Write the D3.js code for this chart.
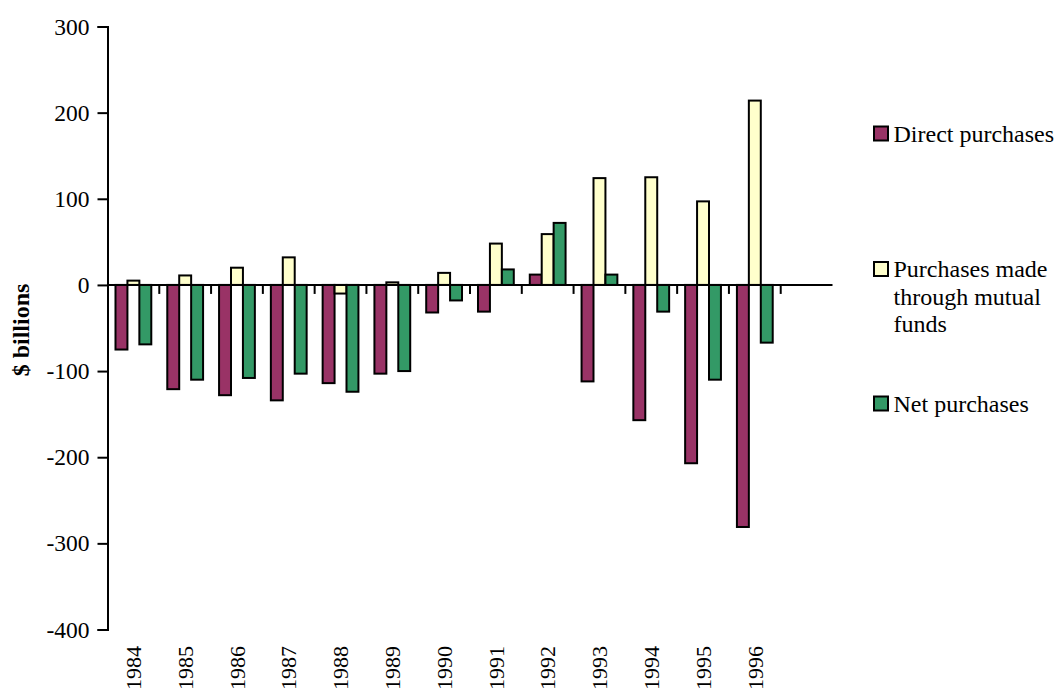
<!DOCTYPE html>
<html>
<head>
<meta charset="utf-8">
<script src="https://cdn.jsdelivr.net/npm/d3@7"></script>
<style>
  html, body { margin: 0; padding: 0; background: #fff; overflow: hidden; }
  svg { display: block; }
</style>
</head>
<body>
<svg id="chart" width="1056" height="693"></svg>
<script>
// Stock purchases by households, $ billions, 1984-1996
const years = ["1984","1985","1986","1987","1988","1989","1990","1991","1992","1993","1994","1995","1996"];
const seriesNames = ["Direct purchases", "Purchases made through mutual funds", "Net purchases"];
const legendLines = [["Direct purchases"], ["Purchases made", "through mutual", "funds"], ["Net purchases"]];
const directPurchases = [-75, -121, -128, -134, -114, -103, -32, -31, 12, -112, -157, -207, -281];
const mutualFundPurchases = [5, 11, 20, 32, -10, 3, 14, 48, 59, 124, 125, 97, 214];
const netPurchases = [-69, -110, -108, -103, -124, -100, -18, 18, 72, 12, -31, -110, -67];
const yTicks = [300, 200, 100, 0, -100, -200, -300, -400];
const colors = ["#993366", "#FFFFCC", "#339966"];

const seriesValues = [directPurchases, mutualFundPurchases, netPurchases];
const FONT = "'Liberation Serif', 'Times New Roman', serif";

const svg = d3.select("#chart").attr("font-family", FONT);
const plotLeft = 107.5, plotRight = 832.5, plotTop = 26.5, plotBottom = 629.5;

const y = d3.scaleLinear().domain([-400, 300]).range([plotBottom, plotTop]);
// 13 year bands plus one empty step at the right end of the axis
const x0 = d3.scaleBand().domain(years).range([plotLeft, plotRight])
  .paddingInner(0).paddingOuter(0.5).align(0);
const step = x0.step();
const x1 = d3.scaleBand().domain(d3.range(seriesNames.length)).range([0, step])
  .paddingInner(0).paddingOuter(0.67);

// Bars
const groups = svg.append("g").selectAll("g")
  .data(years)
  .join("g")
  .attr("transform", d => `translate(${x0(d)},0)`);

groups.selectAll("rect")
  .data((d, i) => seriesValues.map((vals, s) => ({ s, v: vals[i] })))
  .join("rect")
  .attr("x", d => x1(d.s))
  .attr("width", x1.bandwidth())
  .attr("y", d => y(Math.max(0, d.v)))
  .attr("height", d => Math.abs(y(d.v) - y(0)))
  .attr("fill", d => colors[d.s])
  .attr("stroke", "#000")
  .attr("stroke-width", 2);

// Y axis
const yAxis = svg.append("g")
  .attr("transform", `translate(${plotLeft},0)`)
  .call(d3.axisLeft(y).tickValues(yTicks).tickSize(10).tickPadding(8).tickFormat(d => String(d)));
yAxis.attr("font-family", FONT).attr("font-size", 23.5);
yAxis.select(".domain").attr("stroke", "#000").attr("stroke-width", 2);
yAxis.selectAll(".tick line").attr("stroke", "#000").attr("stroke-width", 2);
yAxis.selectAll(".tick text").attr("fill", "#000");

// Zero line with band-boundary ticks
const xAxis = svg.append("g").attr("transform", `translate(0,${y(0)})`);
xAxis.append("line")
  .attr("x1", plotLeft).attr("x2", plotRight)
  .attr("stroke", "#000").attr("stroke-width", 2);
xAxis.selectAll("line.tk")
  .data(years)
  .join("line")
  .attr("class", "tk")
  .attr("x1", d => x0(d) + step).attr("x2", d => x0(d) + step)
  .attr("y1", 0).attr("y2", 9)
  .attr("stroke", "#000").attr("stroke-width", 2);

// Year labels, rotated, below the plot
svg.append("g").selectAll("text")
  .data(years)
  .join("text")
  .attr("transform", d => `translate(${x0(d) + step / 2},646) rotate(-90)`)
  .attr("text-anchor", "end")
  .attr("dy", "0.35em")
  .attr("font-size", 22)
  .attr("fill", "#000")
  .text(d => d);

// Y axis title
svg.append("text")
  .attr("transform", "translate(20.5,330) rotate(-90)")
  .attr("text-anchor", "middle")
  .attr("dy", "0.35em")
  .attr("font-size", 24)
  .attr("font-weight", "bold")
  .attr("fill", "#000")
  .text("$ billions");

// Legend
const legendBaseline = [141.5, 277, 411.5];
const legend = svg.append("g").selectAll("g")
  .data(seriesNames)
  .join("g")
  .attr("transform", (d, i) => `translate(874,${legendBaseline[i]})`);
legend.append("rect")
  .attr("x", 0).attr("y", -15)
  .attr("width", 14).attr("height", 14)
  .attr("fill", (d, i) => colors[i])
  .attr("stroke", "#000").attr("stroke-width", 2);
legend.append("text")
  .attr("font-size", 24)
  .attr("fill", "#000")
  .selectAll("tspan")
  .data((d, i) => legendLines[i])
  .join("tspan")
  .attr("x", 19.5)
  .attr("y", (d, j) => j * 27.5)
  .text(d => d);
</script>
</body>
</html>
